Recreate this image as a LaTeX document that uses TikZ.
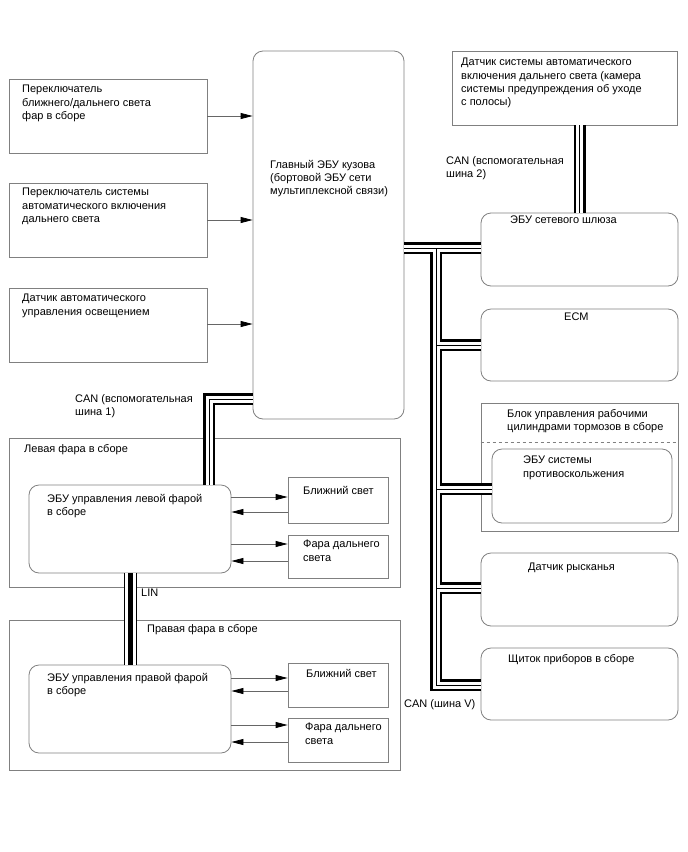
\documentclass[tikz,border=0pt]{standalone}
\usepackage{fontspec}
\setmainfont{Liberation Sans}
\usetikzlibrary{arrows.meta,calc}

\tikzset{
  box/.style={draw=gray, line width=0.8pt, inner sep=0pt},
  ecu/.style={box, rounded corners=10pt},
  txt/.style={inner sep=0pt, anchor=north west, align=left, font=\fontsize{11}{13.3}\selectfont},
  sig/.style={->, draw=gray!80!black, line width=0.8pt},
  bus/.style={line width=12pt, postaction={draw, white, line width=7pt}, postaction={draw, black, line width=0.8pt}},
  lin/.style={line width=13pt, postaction={draw, white, line width=11pt}, postaction={draw, black, line width=5pt}},
}

\begin{document}
\begin{tikzpicture}[x=1pt,y=-1pt,>={Triangle[length=12pt,width=6pt,color=black]}]
\useasboundingbox (0,0) rectangle (688,852);
% interruttori e sensori a sinistra
\node[box, minimum width=198, minimum height=74] (sw1) at (108,116) {};
\node[box, minimum width=198, minimum height=74] (sw2) at (108,220) {};
\node[box, minimum width=198, minimum height=74] (sns) at (108,325) {};
\node[txt] (t-sw1) at (22,85) {Переключатель\\ближнего/дальнего света\\фар в сборе};
\node[txt] (t-sw2) at (22,188) {Переключатель системы\\автоматического включения\\дальнего света};
\node[txt] (t-sns) at (22,294) {Датчик автоматического\\управления освещением};
% centralina principale
\node[ecu, minimum width=151, minimum height=368] (main) at (328.5,235) {};
\node[txt] (t-main) at (270,160) {Главный ЭБУ кузова\\(бортовой ЭБУ сети\\мультиплексной связи)};
\draw[sig] (sw1.east) -- (sw1.east -| main.west);
\draw[sig] (sw2.east) -- (sw2.east -| main.west);
\draw[sig] (sns.east |- 0,324) -- (main.west |- 0,324);
% colonna di destra
\node[box, minimum width=225, minimum height=74] (cam) at (564.5,88) {};
\node[txt] (t-cam) at (461,58) {Датчик системы автоматического\\включения дальнего света (камера\\системы предупреждения об уходе\\с полосы)};
\node[ecu, minimum width=197, minimum height=73] (gw) at (579.5,249.5) {};
\node[txt] (t-gw) at (510,216) {ЭБУ сетевого шлюза};
\node[ecu, minimum width=197, minimum height=72] (ecm) at (579.5,345) {};
\node[txt] (t-ecm) at (564,313) {ECM};
\node[box, minimum width=197, minimum height=128] (brk) at (579.5,467) {};
\node[txt] (t-brk) at (507,409) {Блок управления рабочими\\цилиндрами тормозов в сборе};
\draw[gray, line width=0.8pt, dashed] (brk.west |- 0,442) -- (brk.east |- 0,442);
\node[ecu, minimum width=180, minimum height=74] (abs) at (582,486) {};
\node[txt] (t-abs) at (523,456) {ЭБУ системы\\противоскольжения};
\node[ecu, minimum width=197, minimum height=73] (yaw) at (579.5,589.5) {};
\node[txt] (t-yaw) at (528,563) {Датчик рысканья};
\node[ecu, minimum width=197, minimum height=72] (meter) at (579.5,684) {};
\node[txt] (t-meter) at (508,654) {Щиток приборов в сборе};
\node[txt] (t-can2) at (446,156) {CAN (вспомогательная\\шина 2)};
\node[txt] (t-canv) at (404,699) {CAN (шина V)};
% fari sinistro e destro
\node[box, minimum width=391, minimum height=149] (lgrp) at (204.5,512.5) {};
\node[txt] (t-lgrp) at (24,444) {Левая фара в сборе};
\node[ecu, minimum width=202, minimum height=88] (lecu) at (130,529) {};
\node[txt] (t-lecu) at (47,494) {ЭБУ управления левой фарой\\в сборе};
\node[box, minimum width=100, minimum height=46] (llow) at (338,500) {};
\node[txt] (t-llow) at (303,486) {Ближний свет};
\node[box, minimum width=100, minimum height=43] (lhigh) at (338,556.5) {};
\node[txt] (t-lhigh) at (303,540) {Фара дальнего\\света};
\draw[sig] (lecu.east |- 0,497) -- (llow.west |- 0,497);
\draw[sig] (llow.west |- 0,512) -- (lecu.east |- 0,512);
\draw[sig] (lecu.east |- 0,544) -- (lhigh.west |- 0,544);
\draw[sig] (lhigh.west |- 0,561) -- (lecu.east |- 0,561);
\node[box, minimum width=391, minimum height=150] (rgrp) at (204.5,695) {};
\node[txt] (t-rgrp) at (147,624) {Правая фара в сборе};
\node[ecu, minimum width=202, minimum height=88] (recu) at (130,709) {};
\node[txt] (t-recu) at (47,673) {ЭБУ управления правой фарой\\в сборе};
\node[box, minimum width=100, minimum height=44] (rlow) at (338,685) {};
\node[txt] (t-rlow) at (306,669) {Ближний свет};
\node[box, minimum width=100, minimum height=44] (rhigh) at (338,740) {};
\node[txt] (t-rhigh) at (305,723) {Фара дальнего\\света};
\draw[sig] (recu.east |- 0,678) -- (rlow.west |- 0,678);
\draw[sig] (rlow.west |- 0,691) -- (recu.east |- 0,691);
\draw[sig] (recu.east |- 0,725) -- (rhigh.west |- 0,725);
\draw[sig] (rhigh.west |- 0,742) -- (recu.east |- 0,742);
\node[txt] (t-can1) at (75,394) {CAN (вспомогательная\\шина 1)};
\node[txt] (t-lin) at (141,589) {LIN};
% bus
\coordinate (j0) at (436,248);
\coordinate (j4) at (436,685);
\draw[bus] (main.east |- j0) -- (gw.west |- j0)
  (j0) -- (j4) -- (meter.west |- j4)
  (j0 |- 0,345) -- (ecm.west |- 0,345)
  (j0 |- 0,489) -- (abs.west |- 0,489)
  (j0 |- 0,588) -- (yaw.west |- 0,588)
  (gw.north) -- (gw.north |- cam.south);
\coordinate (k0) at (209,399);
\draw[bus] (main.west |- k0) -- (k0) -- (lecu.north -| k0);
\draw[lin] (lecu.south) -- (recu.north);
\end{tikzpicture}
\end{document}
